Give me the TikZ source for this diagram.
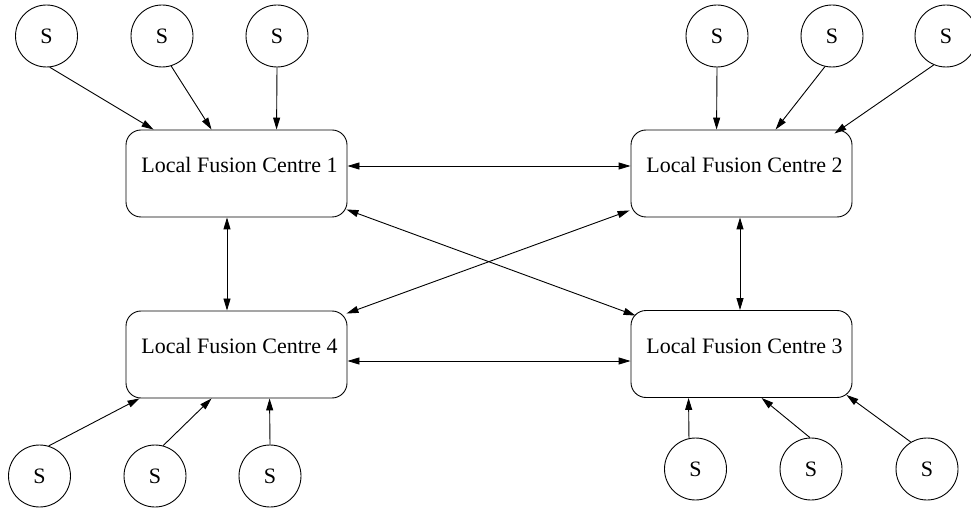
\documentclass[tikz,border=0pt]{standalone}
\usepackage{fontspec}
\setmainfont{Liberation Serif}
\usetikzlibrary{arrows.meta}
\begin{document}
\begin{tikzpicture}[x=1pt,y=-1pt,
  every node/.style={font=\fontsize{22}{26}\selectfont},
  sensor/.style={draw,circle,minimum size=62pt,inner sep=0pt,line width=0.9pt},
  lfc/.style={draw,rounded corners=15pt,minimum width=221pt,minimum height=87pt,inner sep=0pt,line width=0.9pt},
  conn/.style={line width=0.9pt,-{Triangle[length=12pt,width=7pt]}},
  biconn/.style={line width=0.9pt,{Triangle[length=12pt,width=7pt]}-{Triangle[length=12pt,width=7pt]}}]
\useasboundingbox (0,0) rectangle (971,510);
% boxes
\node[lfc] (c1) at (236.5,173.5) {};
\node[lfc] (c2) at (741.5,173.5) {};
\node[lfc] (c4) at (236.5,354.5) {};
\node[lfc] (c3) at (741.5,354) {};
\node[anchor=base] (t1) at (239.5,173) {Local Fusion Centre 1};
\node[anchor=base] (t2) at (744.5,173) {Local Fusion Centre 2};
\node[anchor=base] (t4) at (239.5,353.3) {Local Fusion Centre 4};
\node[anchor=base] (t3) at (744.5,353.3) {Local Fusion Centre 3};
% sensors
\node[sensor] (s1) at (46.5,36) {S};
\node[sensor] (s2) at (162,36) {S};
\node[sensor] (s3) at (277,36) {S};
\node[sensor] (s4) at (717,36) {S};
\node[sensor] (s5) at (832,36) {S};
\node[sensor] (s6) at (946,36) {S};
\node[sensor] (s7) at (39.5,476) {S};
\node[sensor] (s8) at (155,476) {S};
\node[sensor] (s9) at (270,476) {S};
\node[sensor] (s10) at (695.5,469) {S};
\node[sensor] (s11) at (811,469) {S};
\node[sensor] (s12) at (927,469) {S};
% sensor -> centre
\draw[conn] (s1.276) -- ([xshift=28pt]c1.north west);
\draw[conn] (s2.287) -- ([xshift=86pt]c1.north west);
\draw[conn] (s3.270) -- ([xshift=151pt]c1.north west);
\draw[conn] (s4.270) -- ([xshift=86pt]c2.north west);
\draw[conn] (s5.257) -- ([xshift=145pt]c2.north west);
\draw[conn] (s6.247) -- ([xshift=-18pt,yshift=-4pt]c2.north east);
\draw[conn] (s7.73) -- ([xshift=14pt]c4.south west);
\draw[conn] (s8.75) -- ([xshift=86pt]c4.south west);
\draw[conn] (s9.90) -- ([xshift=144pt]c4.south west);
\draw[conn] (s10.102) -- ([xshift=58pt]c3.south west);
\draw[conn] (s11.92) -- ([xshift=131pt]c3.south west);
\draw[conn] (s12.121) -- ([xshift=-6pt,yshift=3pt]c3.south east);
% centre <-> centre
\draw[biconn] ([yshift=7.5pt]c1.east) -- ([yshift=7.5pt]c2.west);
\draw[biconn] ([yshift=-6.5pt]c4.east) -- ([yshift=-7pt]c3.west);
\draw[biconn] ([xshift=-9.5pt]c1.south) -- ([xshift=-9.5pt]c4.north);
\draw[biconn] ([xshift=-1.5pt]c2.south) -- ([xshift=-1.5pt]c3.north);
\draw[biconn] ([xshift=-1pt,yshift=8pt]c1.south east) -- ([xshift=5pt,yshift=-5.5pt]c3.north west);
\draw[biconn] ([xshift=-1pt,yshift=7pt]c2.south west) -- ([xshift=-1pt,yshift=-3pt]c4.north east);
\end{tikzpicture}
\end{document}
